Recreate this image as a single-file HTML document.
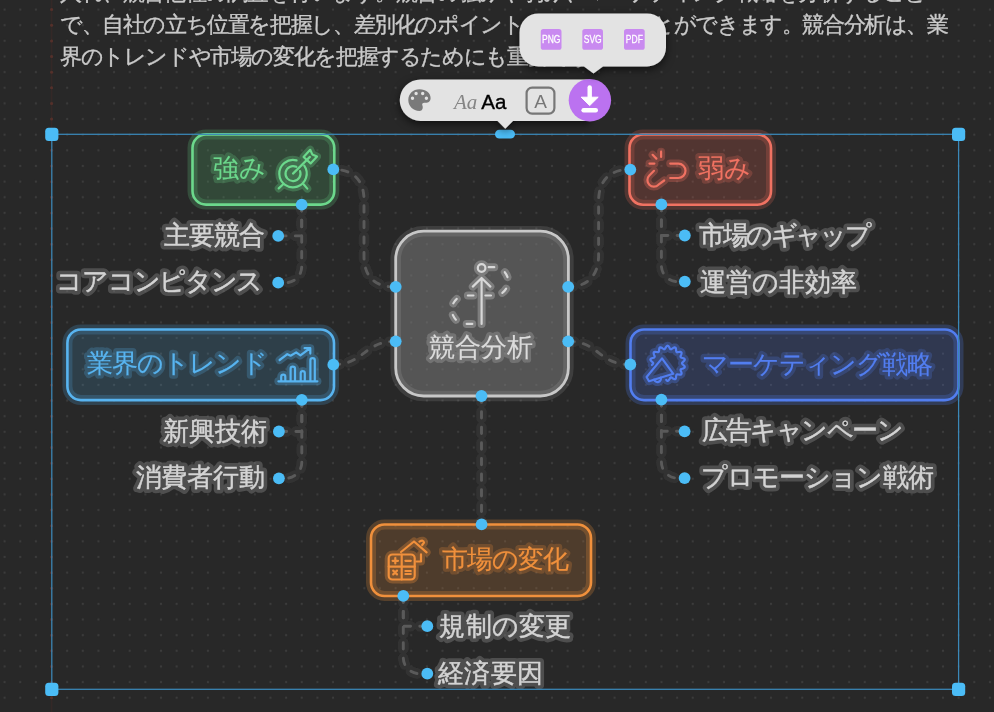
<!DOCTYPE html>
<html><head><meta charset="utf-8">
<style>
html,body{margin:0;padding:0;}
body{width:994px;height:712px;overflow:hidden;background:#282828;position:relative;font-family:"Liberation Sans",sans-serif;-webkit-font-smoothing:antialiased;}
svg,.para{will-change:transform;}
svg{position:absolute;left:0;top:0;}
.para{position:absolute;left:59.90px;top:-23.40px;width:960px;color:#cacaca;font-size:22.30px;letter-spacing:-1.389px;line-height:31.80px;white-space:nowrap;-webkit-text-stroke:0.35px #cacaca;}
</style></head><body>
<svg width="994" height="712" viewBox="0 0 994 712">
<defs>
<pattern id="dots" x="-3.22" y="1.78" width="15.64" height="15.64" patternUnits="userSpaceOnUse">
<circle cx="7.82" cy="7.82" r="1.1" fill="#3c3c3c"/>
</pattern>
</defs>
<rect width="994" height="712" fill="url(#dots)"/>
<line x1="51.6" y1="0" x2="51.6" y2="712" stroke="rgba(140,40,30,0.12)" stroke-width="1.6"/>
<g fill="#55302a"><circle cx="51.6" cy="9.60" r="1.5"/><circle cx="51.6" cy="25.24" r="1.5"/><circle cx="51.6" cy="40.88" r="1.5"/><circle cx="51.6" cy="56.52" r="1.5"/><circle cx="51.6" cy="72.16" r="1.5"/><circle cx="51.6" cy="87.80" r="1.5"/><circle cx="51.6" cy="103.44" r="1.5"/><circle cx="51.6" cy="119.08" r="1.5"/><circle cx="51.6" cy="134.72" r="1.5"/><circle cx="51.6" cy="150.36" r="1.5"/><circle cx="51.6" cy="166.00" r="1.5"/><circle cx="51.6" cy="181.64" r="1.5"/><circle cx="51.6" cy="197.28" r="1.5"/><circle cx="51.6" cy="212.92" r="1.5"/><circle cx="51.6" cy="228.56" r="1.5"/><circle cx="51.6" cy="244.20" r="1.5"/><circle cx="51.6" cy="259.84" r="1.5"/><circle cx="51.6" cy="275.48" r="1.5"/><circle cx="51.6" cy="291.12" r="1.5"/><circle cx="51.6" cy="306.76" r="1.5"/><circle cx="51.6" cy="322.40" r="1.5"/><circle cx="51.6" cy="338.04" r="1.5"/><circle cx="51.6" cy="353.68" r="1.5"/><circle cx="51.6" cy="369.32" r="1.5"/><circle cx="51.6" cy="384.96" r="1.5"/><circle cx="51.6" cy="400.60" r="1.5"/><circle cx="51.6" cy="416.24" r="1.5"/><circle cx="51.6" cy="431.88" r="1.5"/><circle cx="51.6" cy="447.52" r="1.5"/><circle cx="51.6" cy="463.16" r="1.5"/><circle cx="51.6" cy="478.80" r="1.5"/><circle cx="51.6" cy="494.44" r="1.5"/><circle cx="51.6" cy="510.08" r="1.5"/><circle cx="51.6" cy="525.72" r="1.5"/><circle cx="51.6" cy="541.36" r="1.5"/><circle cx="51.6" cy="557.00" r="1.5"/><circle cx="51.6" cy="572.64" r="1.5"/><circle cx="51.6" cy="588.28" r="1.5"/><circle cx="51.6" cy="603.92" r="1.5"/><circle cx="51.6" cy="619.56" r="1.5"/><circle cx="51.6" cy="635.20" r="1.5"/><circle cx="51.6" cy="650.84" r="1.5"/><circle cx="51.6" cy="666.48" r="1.5"/><circle cx="51.6" cy="682.12" r="1.5"/><circle cx="51.6" cy="697.76" r="1.5"/><circle cx="51.6" cy="713.40" r="1.5"/></g>
</svg>
<div class="para">入れ、競合他社の調査を行います。競合の強みや弱み、マーケティング戦略を分析すること<br>で、自社の立ち位置を把握し、差別化のポイントを見つけることができます。競合分析は、業<br>界のトレンドや市場の変化を把握するためにも重要です。</div>

<svg width="994" height="712" viewBox="0 0 994 712" font-family="Liberation Sans, sans-serif">
<defs>
<filter id="soft" x="-5%" y="-5%" width="110%" height="110%"><feGaussianBlur stdDeviation="0.7"/></filter>
<filter id="soft2" x="-20%" y="-50%" width="140%" height="200%"><feGaussianBlur stdDeviation="0.9"/></filter>
<filter id="soft3" x="-20%" y="-50%" width="140%" height="200%"><feGaussianBlur stdDeviation="0.45"/></filter>
<filter id="shadow" x="-30%" y="-50%" width="160%" height="200%"><feDropShadow dx="0" dy="3" stdDeviation="4.5" flood-color="#000" flood-opacity="0.6"/></filter>
</defs>
<!-- connectors -->
<g fill="none" stroke-linecap="round" stroke-dasharray="6.4 9.2">
 <g stroke="#333333" stroke-width="10.5" filter="url(#soft)">
  <path id="c1" stroke-dashoffset="7.2" d="M333.3 169.4 C353.3 169.4 364 180.1 364 200.1 V256.3 C364 276.3 374.7 287 394.7 287"/>
  <path id="c2" stroke-dashoffset="5.5" d="M630.3 169.4 C609.7 169.4 598.6 180.5 598.6 201.1 V255.3 C598.6 275.9 587.5 287 566.9 287"/>
  <path id="c3" d="M333.1 364.7 C364 364.7 364 341.3 395.6 341.3"/>
  <path id="c4" d="M567.7 341.3 C599 341.3 599 364.7 630 364.7"/>
  <path id="c5" d="M481.5 396 V524.4"/>
  <path id="l1" d="M301.7 204.7 V235.9 H278.2"/>
  <path id="l2" d="M301.7 204.7 V266.7 A16 16 0 0 1 285.7 282.7 H278.2"/>
  <path id="l3" d="M661.4 204.4 V235.5 H684.8"/>
  <path id="l4" d="M661.4 204.4 V265.6 A16 16 0 0 0 677.4 281.6 H684.8"/>
  <path id="l5" d="M301.8 399.8 V431.5 H278.9"/>
  <path id="l6" d="M301.8 399.8 V462.3 A16 16 0 0 1 285.8 478.3 H278.9"/>
  <path id="l7" d="M661.4 399.6 V431.3 H684.6"/>
  <path id="l8" d="M661.4 399.6 V462.1 A16 16 0 0 0 677.4 478.1 H684.6"/>
  <path id="l9" d="M403.3 595.9 V626.2 H427.3"/>
  <path id="l10" d="M403.3 595.9 V657.7 A16 16 0 0 0 419.3 673.7 H427.3"/>
 </g>
 <g stroke="#5a5a5a" stroke-width="2.9">
  <use href="#c1"/><use href="#c2"/><use href="#c3"/><use href="#c4"/><use href="#c5"/>
  <use href="#l1"/><use href="#l2"/><use href="#l3"/><use href="#l4"/><use href="#l5"/>
  <use href="#l6"/><use href="#l7"/><use href="#l8"/><use href="#l9"/><use href="#l10"/>
 </g>
</g>

<!-- nodes -->
<g stroke-width="2.6">
 <rect x="395.7" y="231.2" width="172.7" height="164.8" rx="28" fill="rgba(130,130,130,0.5)" stroke="rgba(220,220,220,0.13)" stroke-width="10.5"/>
 <rect x="395.7" y="231.2" width="172.7" height="164.8" rx="28" fill="none" stroke="#c8c8c8" stroke-width="2.8"/>
 <rect x="192.5" y="134.4" width="141.8" height="70.2" rx="13.5" fill="rgba(90,200,120,0.2)" stroke="rgba(106,216,138,0.21)" stroke-width="10"/>
 <rect x="192.5" y="134.4" width="141.8" height="70.2" rx="13.5" fill="none" stroke="#6cd88c"/>
 <rect x="629.5" y="134.5" width="141.5" height="70.2" rx="13.5" fill="rgba(230,100,80,0.22)" stroke="rgba(240,110,90,0.21)" stroke-width="10"/>
 <rect x="629.5" y="134.5" width="141.5" height="70.2" rx="13.5" fill="none" stroke="#f07262"/>
 <rect x="67.4" y="329.5" width="266.6" height="70.6" rx="13.5" fill="rgba(80,170,230,0.18)" stroke="rgba(80,175,240,0.2)" stroke-width="10"/>
 <rect x="67.4" y="329.5" width="266.6" height="70.6" rx="13.5" fill="none" stroke="#58b4f0"/>
 <rect x="630.5" y="329.5" width="328" height="70.6" rx="13.5" fill="rgba(80,120,240,0.2)" stroke="rgba(80,125,240,0.24)" stroke-width="10"/>
 <rect x="630.5" y="329.5" width="328" height="70.6" rx="13.5" fill="none" stroke="#527ef0"/>
 <rect x="371" y="524.5" width="220" height="71.5" rx="13.5" fill="rgba(230,140,60,0.2)" stroke="rgba(240,145,60,0.24)" stroke-width="10"/>
 <rect x="371" y="524.5" width="220" height="71.5" rx="13.5" fill="none" stroke="#f0903c"/>
</g>

<!-- icons -->
<g fill="none" stroke-linecap="round" stroke-linejoin="round">
 <g id="ic-green">
  <path d="M304.22 165.74 A13.7 13.7 0 1 1 296.55 160.37"/>
  <path d="M300.05 171.03 A7.5 7.5 0 1 1 296.29 166.86"/>
  <path d="M293 173.6 L309.9 156.9"/>
  <path d="M303.6 157 L310.2 149.8 L312.3 154.4 L317 156.6 L310.6 163.4 Z"/>
  <path d="M283.2 184.3 L278.7 188.4 M303.6 184.3 L307.3 188.6"/>
 </g>
 <g id="ic-red">
  <path d="M661.1 151.7 V157 M652.6 154.8 L656.4 158.6 M649.5 163.6 H654.4"/>
  <path d="M654 170.8 L649.3 175.5 A6.5 6.5 0 0 0 658.5 184.7 L664.2 180.5"/>
  <path d="M670.2 163.6 H678.3 A7.2 7.2 0 0 1 678.3 178 H670.2"/>
 </g>
 <g id="ic-center">
  <circle cx="481.6" cy="268" r="3.8"/>
  <path d="M481.6 324 V279 M472.8 286.6 L481.6 278 L490.4 286.6"/>
  <path d="M485.4 267.2 H494 A14.1 14.1 0 0 1 494 295.5 H466 A14.2 14.2 0 0 0 466 323.9 H476" stroke-dasharray="5.6 11.9" stroke-dashoffset="14.21"/>
 </g>
 <g id="ic-blue">
  <path d="M278.4 381.3 H317.4"/>
  <path d="M281.2 381 V376.7 A2.05 2.05 0 0 1 285.3 376.7 V381 M290.6 381 V368.8 A2.2 2.2 0 0 1 295 368.8 V381 M300.7 381 V373.1 A2.05 2.05 0 0 1 304.8 373.1 V381 M310.4 381 V360.3 A2.2 2.2 0 0 1 314.8 360.3 V381"/>
  <path d="M279.6 360 L287.4 354.2 L290.6 355.7 L296.2 352.4 L300.4 355.4 L309.8 348.3 M304.6 348.2 H310.3 V353.6"/>
 </g>
 <g id="ic-indigo">
  <path d="M651.9 365.0 L652.6 364.3 L653.1 363.6 L653.2 363.0 L652.7 362.4 L652.0 361.7 L651.1 361.0 L650.6 360.2 L650.4 359.4 L650.8 358.8 L651.7 358.3 L652.7 358.0 L653.7 357.7 L654.4 357.3 L654.7 356.8 L654.6 356.0 L654.2 355.1 L653.8 354.0 L653.6 353.1 L653.8 352.3 L654.5 351.9 L655.4 351.9 L656.5 352.0 L657.6 352.2 L658.3 352.2 L658.8 351.8 L659.0 351.1 L659.1 350.1 L659.2 348.9 L659.4 348.0 L660.0 347.4 L660.7 347.4 L661.6 347.7 L662.5 348.4 L663.4 348.9 L664.1 349.3 L664.7 349.1 L665.2 348.5 L665.7 347.6 L666.2 346.7 L666.9 346.0 L667.6 345.7 L668.3 346.0 L669.0 346.7 L669.5 347.7 L670.0 348.6 L670.5 349.1 L671.1 349.3 L671.8 348.9 L672.7 348.3 L673.6 347.7 L674.5 347.4 L675.3 347.5 L675.8 348.0 L676.0 349.0 L676.1 350.1 L676.2 351.1 L676.4 351.8 L676.9 352.2 L677.7 352.2 L678.7 352.0 L679.8 351.9 L680.7 351.9 L681.4 352.4 L681.6 353.1 L681.4 354.1 L681.0 355.1 L680.6 356.0 L680.5 356.8 L680.8 357.3 L681.5 357.7 L682.5 358.0 L683.5 358.3 L684.4 358.8 L684.8 359.4 L684.6 360.2 L684.0 361.0 L683.2 361.7 L682.5 362.4 L682.0 363.0 L682.1 363.6 L682.6 364.3 L683.4 365.0 L684.1 365.7 L684.7 366.5 L684.7 367.3 L684.3 367.9 L683.4 368.4 L682.3 368.7 L681.4 369.0 L680.7 369.3 L680.5 369.9 L680.7 370.7 L681.1 371.6 L681.5 372.7 L681.6 373.6 L681.3 374.3 L680.6 374.7 L679.6 374.7 L678.5 374.5 L677.5 374.4 L676.8 374.4 L676.4 374.9 L676.2 375.6 L676.1 376.7 L676.0 377.8 L675.7 378.7 L675.2 379.2 L674.4 379.2 L673.5 378.8 L672.5 378.2 L671.7 377.6 L671.0 377.3 L670.5 377.5 L670.0 378.2 L669.5 379.1 L668.9 380.0 L668.2 380.7 L667.5 380.9 L666.8 380.6 L666.2 379.8"/>
  <path d="M646.6 377 L662 358.4 L673.3 373.8 L649 381.2 Z"/>
  <path d="M654.2 379.6 A3.4 3.4 0 0 0 660.8 377.6"/>
 </g>
 <g id="ic-orange">
  <rect x="388.7" y="554.5" width="26" height="25" rx="3.8"/>
  <path d="M401.7 554.5 V579.5 M388.7 566.6 H414.7"/>
  <path d="M392.6 560.8 H398 M395.3 558.1 V563.5 M405.4 560.8 H410.8 M393.2 570.6 L397 574.4 M397 570.6 L393.2 574.4 M405.4 571 H410.8 M405.4 574 H410.8"/>
  <path d="M401 552 L414 541.5 L426.6 552.4 M421 554.4 V561.5 H416.4 M419.4 541.6 Q423.6 539.4 424 542.6 L422.2 545"/>
 </g>
</g>
<g fill="none" stroke-linecap="round" stroke-linejoin="round" stroke-width="8">
 <g opacity="0.28"><use href="#ic-green" stroke="#6cd88c"/></g>
 <g opacity="0.28"><use href="#ic-red" stroke="#f07262"/></g>
 <g opacity="0.3"><use href="#ic-center" stroke="#d8d8d8"/></g>
 <g opacity="0.28"><use href="#ic-blue" stroke="#58b4f0"/></g>
 <g opacity="0.3"><use href="#ic-indigo" stroke="#527ef0"/></g>
 <g opacity="0.3"><use href="#ic-orange" stroke="#f0903c"/></g>
</g>
<g fill="none" stroke-linecap="round" stroke-linejoin="round" stroke-width="2.2">
 <use href="#ic-green" stroke="#6cd88c"/>
 <use href="#ic-red" stroke="#f07262"/>
 <use href="#ic-center" stroke="#d8d8d8"/>
 <use href="#ic-blue" stroke="#58b4f0"/>
 <use href="#ic-indigo" stroke="#527ef0"/>
 <use href="#ic-orange" stroke="#f0903c"/>
</g>

<!-- texts -->
<g>
<g opacity="0.22" filter="url(#soft3)"><text x="213.40" y="176.50" font-size="26.00" letter-spacing="-0.200" fill="#6cd88c" stroke="#6cd88c" stroke-width="7" stroke-linejoin="round">強み</text></g>
<text x="213.40" y="176.50" font-size="26.00" letter-spacing="-0.200" fill="#6cd88c" stroke="#6cd88c" stroke-width="0.15" stroke-linejoin="round">強み</text>
<g opacity="0.22" filter="url(#soft3)"><text x="698.40" y="176.70" font-size="26.00" letter-spacing="-0.400" fill="#f07262" stroke="#f07262" stroke-width="7" stroke-linejoin="round">弱み</text></g>
<text x="698.40" y="176.70" font-size="26.00" letter-spacing="-0.400" fill="#f07262" stroke="#f07262" stroke-width="0.15" stroke-linejoin="round">弱み</text>
<g opacity="0.22" filter="url(#soft3)"><text x="87.00" y="371.90" font-size="26.00" letter-spacing="-1.067" fill="#58b4f0" stroke="#58b4f0" stroke-width="7" stroke-linejoin="round">業界のトレンド</text></g>
<text x="87.00" y="371.90" font-size="26.00" letter-spacing="-1.067" fill="#58b4f0" stroke="#58b4f0" stroke-width="0.15" stroke-linejoin="round">業界のトレンド</text>
<g opacity="0.22" filter="url(#soft3)"><text x="701.80" y="372.90" font-size="26.00" letter-spacing="-1.075" fill="#527ef0" stroke="#527ef0" stroke-width="7" stroke-linejoin="round">マーケティング戦略</text></g>
<text x="701.80" y="372.90" font-size="26.00" letter-spacing="-1.075" fill="#527ef0" stroke="#527ef0" stroke-width="0.15" stroke-linejoin="round">マーケティング戦略</text>
<g opacity="0.22" filter="url(#soft3)"><text x="442.20" y="567.50" font-size="26.00" letter-spacing="-1.150" fill="#f0903c" stroke="#f0903c" stroke-width="7" stroke-linejoin="round">市場の変化</text></g>
<text x="442.20" y="567.50" font-size="26.00" letter-spacing="-1.150" fill="#f0903c" stroke="#f0903c" stroke-width="0.15" stroke-linejoin="round">市場の変化</text>
<g opacity="0.22" filter="url(#soft3)"><text x="428.80" y="356.30" font-size="26.00" letter-spacing="0.067" fill="#dcdcdc" stroke="#dcdcdc" stroke-width="7" stroke-linejoin="round">競合分析</text></g>
<text x="428.80" y="356.30" font-size="26.00" letter-spacing="0.067" fill="#dcdcdc" stroke="#dcdcdc" stroke-width="0.15" stroke-linejoin="round">競合分析</text>
<g opacity="0.47" filter="url(#soft3)"><text x="164.00" y="244.20" font-size="26.00" letter-spacing="-1.000" fill="#7a7a7a" stroke="#7a7a7a" stroke-width="8" stroke-linejoin="round">主要競合</text></g>
<text x="164.00" y="244.20" font-size="26.00" letter-spacing="-1.000" fill="#d4d4d4" stroke="#d4d4d4" stroke-width="0.45" stroke-linejoin="round">主要競合</text>
<g opacity="0.47" filter="url(#soft3)"><text x="56.40" y="290.10" font-size="26.00" letter-spacing="-1.286" fill="#7a7a7a" stroke="#7a7a7a" stroke-width="8" stroke-linejoin="round">コアコンピタンス</text></g>
<text x="56.40" y="290.10" font-size="26.00" letter-spacing="-1.286" fill="#d4d4d4" stroke="#d4d4d4" stroke-width="0.45" stroke-linejoin="round">コアコンピタンス</text>
<g opacity="0.47" filter="url(#soft3)"><text x="162.60" y="440.30" font-size="26.00" letter-spacing="0.200" fill="#7a7a7a" stroke="#7a7a7a" stroke-width="8" stroke-linejoin="round">新興技術</text></g>
<text x="162.60" y="440.30" font-size="26.00" letter-spacing="0.200" fill="#d4d4d4" stroke="#d4d4d4" stroke-width="0.45" stroke-linejoin="round">新興技術</text>
<g opacity="0.47" filter="url(#soft3)"><text x="135.60" y="486.20" font-size="26.00" letter-spacing="-0.100" fill="#7a7a7a" stroke="#7a7a7a" stroke-width="8" stroke-linejoin="round">消費者行動</text></g>
<text x="135.60" y="486.20" font-size="26.00" letter-spacing="-0.100" fill="#d4d4d4" stroke="#d4d4d4" stroke-width="0.45" stroke-linejoin="round">消費者行動</text>
<g opacity="0.47" filter="url(#soft3)"><text x="699.00" y="243.90" font-size="26.00" letter-spacing="-2.400" fill="#7a7a7a" stroke="#7a7a7a" stroke-width="8" stroke-linejoin="round">市場のギャップ</text></g>
<text x="699.00" y="243.90" font-size="26.00" letter-spacing="-2.400" fill="#d4d4d4" stroke="#d4d4d4" stroke-width="0.45" stroke-linejoin="round">市場のギャップ</text>
<g opacity="0.47" filter="url(#soft3)"><text x="700.00" y="290.50" font-size="26.00" letter-spacing="0.000" fill="#7a7a7a" stroke="#7a7a7a" stroke-width="8" stroke-linejoin="round">運営の非効率</text></g>
<text x="700.00" y="290.50" font-size="26.00" letter-spacing="0.000" fill="#d4d4d4" stroke="#d4d4d4" stroke-width="0.45" stroke-linejoin="round">運営の非効率</text>
<g opacity="0.47" filter="url(#soft3)"><text x="701.60" y="439.40" font-size="26.00" letter-spacing="-1.571" fill="#7a7a7a" stroke="#7a7a7a" stroke-width="8" stroke-linejoin="round">広告キャンペーン</text></g>
<text x="701.60" y="439.40" font-size="26.00" letter-spacing="-1.571" fill="#d4d4d4" stroke="#d4d4d4" stroke-width="0.45" stroke-linejoin="round">広告キャンペーン</text>
<g opacity="0.47" filter="url(#soft3)"><text x="700.60" y="485.80" font-size="26.00" letter-spacing="-0.850" fill="#7a7a7a" stroke="#7a7a7a" stroke-width="8" stroke-linejoin="round">プロモーション戦術</text></g>
<text x="700.60" y="485.80" font-size="26.00" letter-spacing="-0.850" fill="#d4d4d4" stroke="#d4d4d4" stroke-width="0.45" stroke-linejoin="round">プロモーション戦術</text>
<g opacity="0.47" filter="url(#soft3)"><text x="439.40" y="634.90" font-size="26.00" letter-spacing="0.200" fill="#7a7a7a" stroke="#7a7a7a" stroke-width="8" stroke-linejoin="round">規制の変更</text></g>
<text x="439.40" y="634.90" font-size="26.00" letter-spacing="0.200" fill="#d4d4d4" stroke="#d4d4d4" stroke-width="0.45" stroke-linejoin="round">規制の変更</text>
<g opacity="0.47" filter="url(#soft3)"><text x="438.00" y="682.00" font-size="26.00" letter-spacing="0.267" fill="#7a7a7a" stroke="#7a7a7a" stroke-width="8" stroke-linejoin="round">経済要因</text></g>
<text x="438.00" y="682.00" font-size="26.00" letter-spacing="0.267" fill="#d4d4d4" stroke="#d4d4d4" stroke-width="0.45" stroke-linejoin="round">経済要因</text>
</g>
<!-- selection box -->
<rect x="51.8" y="134.3" width="906.8" height="555" fill="none" stroke="#3a88b8" stroke-width="1.25"/>
<g fill="#4bbcf6">
 <rect x="45.2" y="127.7" width="13.2" height="13.2" rx="3.5"/>
 <rect x="952" y="127.7" width="13.2" height="13.2" rx="3.5"/>
 <rect x="45.2" y="682.7" width="13.2" height="13.2" rx="3.5"/>
 <rect x="952" y="682.7" width="13.2" height="13.2" rx="3.5"/>
 <rect x="495" y="129.8" width="20" height="8.8" rx="4.4"/>
</g>
<g fill="#4bbcf6">
 <circle cx="333.3" cy="169.4" r="5.9"/>
 <circle cx="301.7" cy="204.7" r="5.9"/>
 <circle cx="278.2" cy="235.9" r="5.9"/>
 <circle cx="278.2" cy="282.7" r="5.9"/>
 <circle cx="630.3" cy="169.6" r="5.9"/>
 <circle cx="661.4" cy="204.4" r="5.9"/>
 <circle cx="684.8" cy="235.5" r="5.9"/>
 <circle cx="684.8" cy="281.6" r="5.9"/>
 <circle cx="395.7" cy="286.8" r="5.9"/>
 <circle cx="395.7" cy="341.3" r="5.9"/>
 <circle cx="568.2" cy="286.8" r="5.9"/>
 <circle cx="568.2" cy="341.3" r="5.9"/>
 <circle cx="481.5" cy="396" r="5.9"/>
 <circle cx="333.3" cy="364.7" r="5.9"/>
 <circle cx="301.8" cy="399.8" r="5.9"/>
 <circle cx="278.9" cy="431.5" r="5.9"/>
 <circle cx="278.9" cy="478.3" r="5.9"/>
 <circle cx="630.3" cy="364.5" r="5.9"/>
 <circle cx="661.4" cy="399.6" r="5.9"/>
 <circle cx="684.6" cy="431.3" r="5.9"/>
 <circle cx="684.6" cy="478.1" r="5.9"/>
 <circle cx="481.6" cy="524.4" r="5.9"/>
 <circle cx="403.3" cy="595.9" r="5.9"/>
 <circle cx="427.3" cy="626.2" r="5.9"/>
 <circle cx="427.3" cy="673.7" r="5.9"/>
</g>

<!-- toolbar -->
<g>
 <path filter="url(#shadow)" d="M420.5 79.4 H590 V120.9 H513 L505.3 128.8 L497.6 120.9 H420.5 A20.75 20.75 0 0 1 420.5 79.4 Z" fill="#e3e3e3"/>
 <!-- palette -->
 <path fill="#7a7a7a" fill-rule="evenodd" d="M419.5 89.3 C426 89.3 430.6 93 430.6 98 C430.6 102 427.5 103.2 425 102.8 C423 102.5 421.6 103.5 422.4 105.5 C423.3 107.6 422.6 111 419.5 111 C413 111 408.3 106 408.3 100.1 C408.3 94 413 89.3 419.5 89.3 Z M416.1 93.5 m-1.7 0 a1.7 1.7 0 1 0 3.4 0 a1.7 1.7 0 1 0 -3.4 0 Z M422.7 93.5 m-1.7 0 a1.7 1.7 0 1 0 3.4 0 a1.7 1.7 0 1 0 -3.4 0 Z M412.5 98.3 m-1.7 0 a1.7 1.7 0 1 0 3.4 0 a1.7 1.7 0 1 0 -3.4 0 Z M426.4 98.3 m-1.7 0 a1.7 1.7 0 1 0 3.4 0 a1.7 1.7 0 1 0 -3.4 0 Z"/>
 <text x="454" y="108.6" font-family="Liberation Serif, serif" font-style="italic" font-size="21" fill="#858585">Aa</text>
 <text x="481.3" y="108.6" font-size="20.5" fill="#000" stroke="#000" stroke-width="0.35">Aa</text>
 <rect x="526.6" y="87.6" width="27.8" height="26" rx="5.5" fill="none" stroke="#777" stroke-width="2.2"/>
 <text x="540.5" y="107.5" font-size="19" fill="#777" text-anchor="middle">A</text>
 <circle cx="589.9" cy="100.2" r="21.2" fill="#bb72f0"/>
 <path d="M589.7 87.5 V98" stroke="#fff" stroke-width="4.4" stroke-linecap="round"/>
 <path d="M581.2 97.2 H598.2 L589.7 105.6 Z" fill="#fff" stroke="#fff" stroke-width="1" stroke-linejoin="round"/>
 <path d="M583.6 110.3 H595.8" stroke="#fff" stroke-width="4.4" stroke-linecap="round"/>
 <!-- popup -->
 <path filter="url(#shadow)" d="M538.5 13.4 H647 A19 19 0 0 1 666 32.4 V47.5 A19 19 0 0 1 647 66.5 H603 L593.5 73.4 L584 66.5 H538.5 A19 19 0 0 1 519.5 47.5 V32.4 A19 19 0 0 1 538.5 13.4 Z" fill="#e3e3e3"/>
 <g fill="#c98af0">
  <rect x="540.8" y="29.1" width="20.7" height="20.7" rx="2.6"/>
  <rect x="582.3" y="29.1" width="20.7" height="20.7" rx="2.6"/>
  <rect x="624" y="29.1" width="20.7" height="20.7" rx="2.6"/>
 </g>
 <g fill="#fff" stroke="#fff" stroke-width="0.25" font-size="10.4" text-anchor="middle" transform="translate(0 43.2) scale(0.82 1)">
  <text x="672.20" y="0">PNG</text>
  <text x="722.80" y="0">SVG</text>
  <text x="773.66" y="0">PDF</text>
 </g>
</g>
</svg>
</body></html>
